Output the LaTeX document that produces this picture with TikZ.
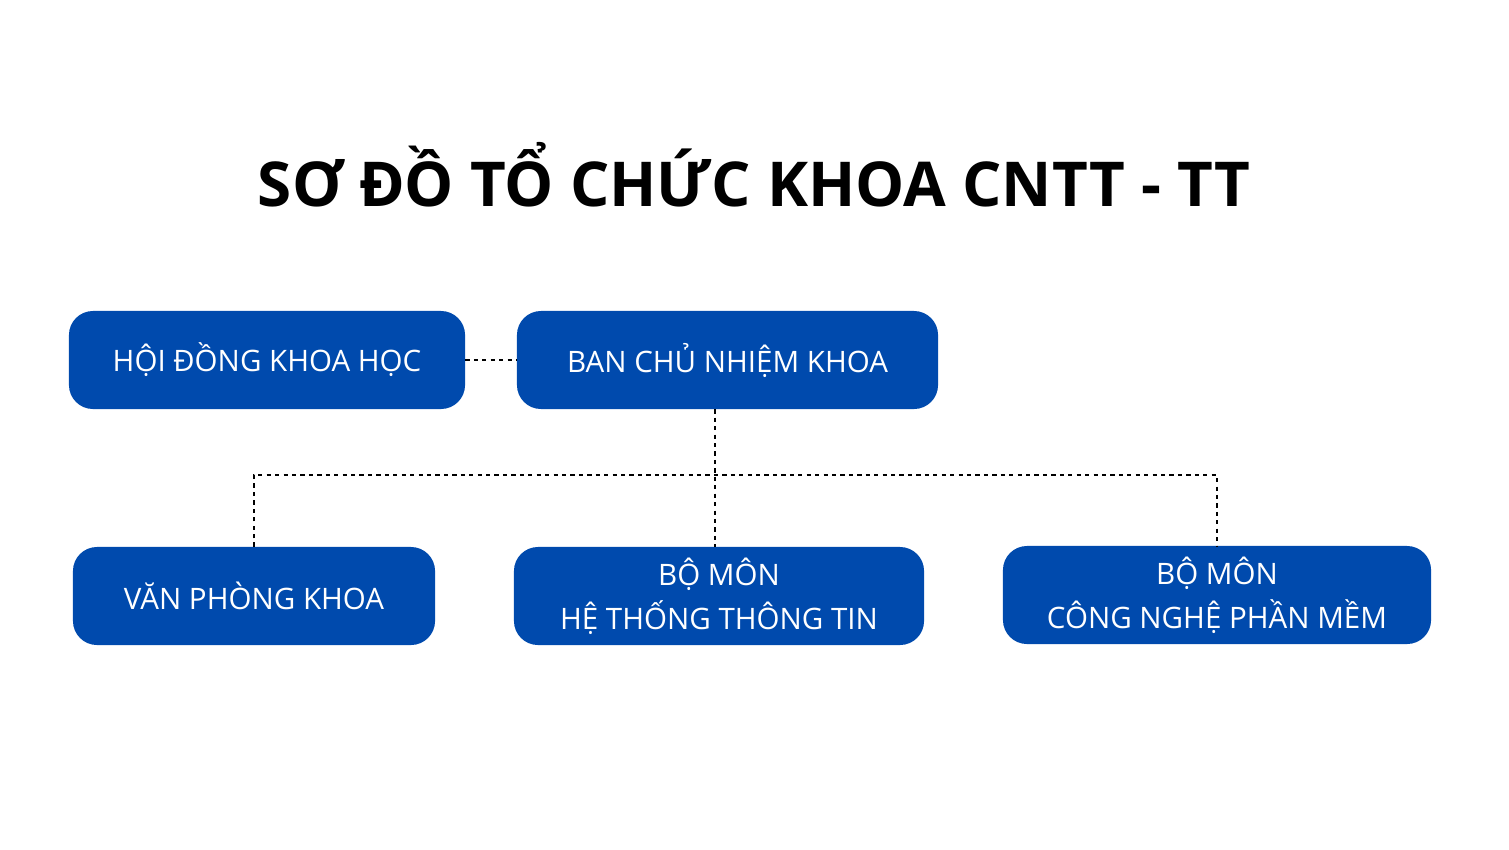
\documentclass[tikz,border=0pt]{standalone}
\usepackage{fontspec}
\setmainfont{Open Sans}
\usetikzlibrary{positioning}
\definecolor{khoablue}{HTML}{004AAD}
\tikzset{
  unit/.style={fill=khoablue, text=white, rounded corners=0.6cm, minimum height=2.45cm,
    align=center, font=\fontsize{21}{31}\selectfont, inner sep=0pt},
  link/.style={dashed, line width=1.3pt, black}
}
\begin{document}
\begin{tikzpicture}[x=0.025cm,y=-0.025cm]
\useasboundingbox (0,0) rectangle (1509,849);
% tieu de
\node (title) at (754,175) {\fontsize{44}{50}\selectfont\bfseries SƠ ĐỒ TỔ CHỨC KHOA CNTT - TT};
% cac don vi
\node[unit, minimum width=9.9cm] (hdkh) at (267,360) {HỘI ĐỒNG KHOA HỌC};
\node[unit, minimum width=10.525cm] (bcnk) at (727.5,360) {BAN CHỦ NHIỆM KHOA};
\node[unit, minimum width=9.05cm] (vpk) at (254,596) {VĂN PHÒNG KHOA};
\node[unit, minimum width=10.25cm] (httt) at (719,596) {BỘ MÔN\\HỆ THỐNG THÔNG TIN};
\node[unit, minimum width=10.7cm] (cnpm) at (1217,595) {BỘ MÔN\\CÔNG NGHỆ PHẦN MỀM};
% duong noi
\coordinate (mid) at (715,475);
\draw[link] (hdkh) -- (bcnk);
\draw[link] (bcnk.south -| mid) -- (httt.north -| mid);
\draw[link] (vpk.north) |- (mid) -| (cnpm.north);
\end{tikzpicture}
\end{document}
